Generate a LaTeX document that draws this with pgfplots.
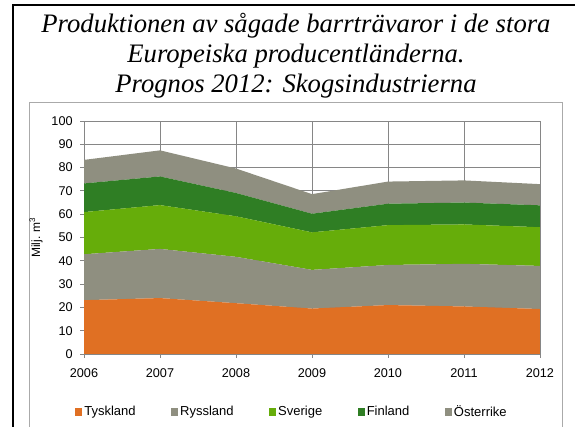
\documentclass[border=0pt]{standalone}
\usepackage{fontspec}
\setmainfont{Liberation Sans}
\newfontfamily\titlefont{Liberation Serif}
\usepackage{pgfplots}
\pgfplotsset{compat=1.18}

\definecolor{tysk}{RGB}{224,112,35}
\definecolor{grau}{RGB}{143,143,128}
\definecolor{sve}{RGB}{102,173,10}
\definecolor{fin}{RGB}{47,126,36}
\definecolor{gridc}{RGB}{134,134,134}

\begin{document}
\begin{tikzpicture}
\useasboundingbox (0pt,0pt) rectangle (431.25pt,320.25pt);
% frames
\draw[line width=1.5pt] (9.75pt,-2pt) -- (9.75pt,316.5pt) -- (440pt,316.5pt);
\draw[gridc!70,line width=0.75pt] (21.75pt,-2pt) -- (21.75pt,243pt) -- (421.5pt,243pt) -- (421.5pt,-2pt);
% title
\begin{scope}[every node/.style={anchor=base,inner sep=0pt,font=\titlefont\itshape\fontsize{20}{23}\selectfont}]
\node at (222pt,295.5pt) {Produktionen av sågade barrträvaror i de stora};
\node at (222pt,273.0pt) {Europeiska producentländerna.};
\node at (222pt,250.5pt) {Prognos 2012: Skogsindustrierna};
\end{scope}

\begin{axis}[
  at={(63pt,54.75pt)}, anchor=south west,
  scale only axis, width=342pt, height=174.75pt,
  xmin=2006, xmax=2012, ymin=0, ymax=100,
  xtick={2006,2007,...,2012}, ytick={0,10,...,100},
  grid=major, grid style={gridc, line width=0.6pt},
  axis line style={gridc, line width=0.6pt},
  tick style={gridc, line width=0.6pt},
  tick align=outside, major tick length=3pt, tick pos=left,
  tick label style={font=\fontsize{9.5}{11}\selectfont},
  /pgf/number format/assume math mode=true,
  x tick label style={/pgf/number format/1000 sep={}, yshift=-4.5pt},
  y tick label style={xshift=-2pt},
  ylabel={Milj. m\textsuperscript{3}},
  ylabel style={at={(axis description cs:-0.105,0.5)}, anchor=center, font=\fontsize{9}{11}\selectfont},
  stack plots=y,
  legend columns=5,
  legend style={at={(axis description cs:0.456,-0.249)}, anchor=center, draw=none, fill=none,
    font=\fontsize{9.75}{12}\selectfont, inner sep=0pt,
    /tikz/every even column/.append style={column sep=25pt},
    nodes={inner sep=1.5pt}},
  legend image code/.code={\fill[#1] (0pt,-2.7pt) rectangle (5.4pt,2.7pt);},
]
\addplot[fill=tysk, draw=none] coordinates {
  (2006,23.1) (2007,24.0) (2008,21.8) (2009,19.5) (2010,21.0) (2011,20.4) (2012,19.3)} \closedcycle;
\addlegendentry{Tyskland}
\addplot[fill=grau, draw=none] coordinates {
  (2006,19.7) (2007,21.1) (2008,19.9) (2009,16.6) (2010,17.2) (2011,18.3) (2012,18.5)} \closedcycle;
\addlegendentry{Ryssland}
\addplot[fill=sve, draw=none] coordinates {
  (2006,18.1) (2007,18.8) (2008,17.4) (2009,16.1) (2010,17.1) (2011,16.9) (2012,16.6)} \closedcycle;
\addlegendentry{Sverige}
\addplot[fill=fin, draw=none] coordinates {
  (2006,12.3) (2007,12.3) (2008,10.0) (2009,8.0) (2010,9.2) (2011,9.4) (2012,9.4)} \closedcycle;
\addlegendentry{Finland}
\addplot[fill=grau, draw=none] coordinates {
  (2006,10.1) (2007,11.2) (2008,10.5) (2009,8.4) (2010,9.5) (2011,9.5) (2012,9.1)} \closedcycle;
\addlegendentry{Österrike}
\end{axis}
\end{tikzpicture}
\end{document}
